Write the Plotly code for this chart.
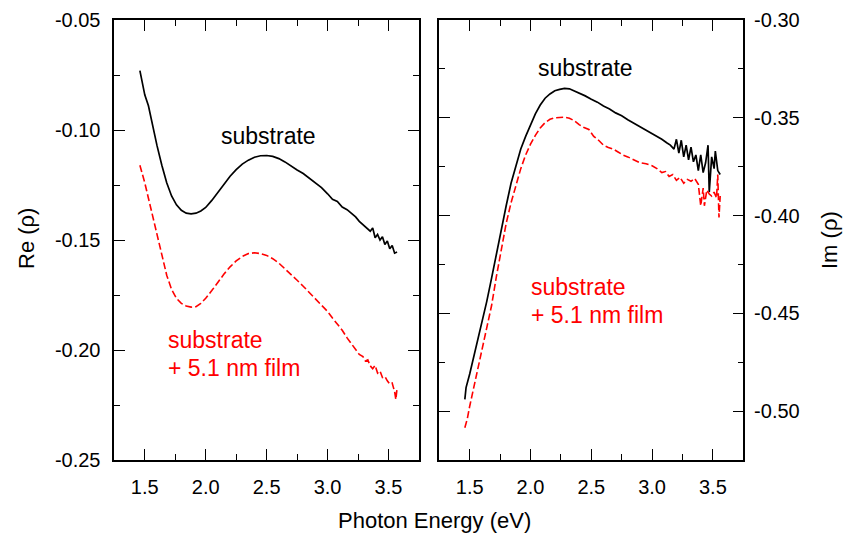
import plotly.graph_objects as go

# ---------------- data ----------------
energy_re_sub = [1.46, 1.48, 1.50, 1.53, 1.56, 1.60, 1.64, 1.68, 1.72, 1.76, 1.80, 1.84, 1.88, 1.92, 1.96,
                 2.00, 2.05, 2.10, 2.15, 2.20, 2.25, 2.30, 2.35, 2.40, 2.45, 2.50, 2.55, 2.60, 2.65, 2.70,
                 2.75, 2.80, 2.85, 2.90, 2.95, 3.00, 3.04, 3.08, 3.12, 3.16, 3.20, 3.23, 3.26, 3.29, 3.32,
                 3.35, 3.37, 3.39, 3.41, 3.43, 3.45, 3.47, 3.49, 3.51, 3.53, 3.55, 3.57]
re_substrate = [-0.0730, -0.0790, -0.0840, -0.0890, -0.0970, -0.1070, -0.1160, -0.1240, -0.1300, -0.1340,
                -0.1365, -0.1378, -0.1381, -0.1378, -0.1368, -0.1352, -0.1320, -0.1283, -0.1245, -0.1210,
                -0.1180, -0.1155, -0.1137, -0.1124, -0.1117, -0.1116, -0.1120, -0.1130, -0.1145, -0.1165,
                -0.1182, -0.1198, -0.1220, -0.1240, -0.1262, -0.1290, -0.1315, -0.1325, -0.1350, -0.1362,
                -0.1380, -0.1395, -0.1415, -0.1430, -0.1448, -0.1460, -0.1445, -0.1490, -0.1475, -0.1500,
                -0.1485, -0.1520, -0.1505, -0.1540, -0.1525, -0.1560, -0.1555]

energy_re_film = [1.46, 1.48, 1.50, 1.53, 1.56, 1.60, 1.64, 1.68, 1.72, 1.76, 1.80, 1.84, 1.88, 1.92, 1.96,
                  2.00, 2.05, 2.10, 2.15, 2.20, 2.25, 2.30, 2.35, 2.40, 2.45, 2.50, 2.55, 2.60, 2.65, 2.70,
                  2.75, 2.80, 2.85, 2.90, 2.95, 3.00, 3.04, 3.08, 3.12, 3.16, 3.20, 3.23, 3.26, 3.29, 3.31,
                  3.33, 3.35, 3.37, 3.39, 3.41, 3.43, 3.45, 3.47, 3.49, 3.51, 3.53, 3.55, 3.56, 3.57]
re_film = [-0.1160, -0.1195, -0.1240, -0.1310, -0.1380, -0.1480, -0.1580, -0.1660, -0.1725, -0.1765,
           -0.1788, -0.1800, -0.1805, -0.1803, -0.1788, -0.1765, -0.1730, -0.1690, -0.1655, -0.1622,
           -0.1595, -0.1575, -0.1562, -0.1558, -0.1562, -0.1570, -0.1585, -0.1605, -0.1630, -0.1655,
           -0.1683, -0.1710, -0.1738, -0.1765, -0.1795, -0.1825, -0.1855, -0.1880, -0.1910, -0.1945,
           -0.1975, -0.1992, -0.2020, -0.2030, -0.2050, -0.2045, -0.2072, -0.2085, -0.2070, -0.2105,
           -0.2095, -0.2125, -0.2120, -0.2140, -0.2155, -0.2150, -0.2190, -0.2225, -0.2175]

energy_im_sub = [1.46, 1.47, 1.50, 1.53, 1.56, 1.60, 1.64, 1.68, 1.72, 1.76, 1.80, 1.84, 1.88, 1.92, 1.96,
                 2.00, 2.04, 2.08, 2.12, 2.16, 2.20, 2.24, 2.28, 2.32, 2.36, 2.40, 2.45, 2.50, 2.55, 2.60,
                 2.65, 2.70, 2.75, 2.80, 2.85, 2.90, 2.95, 3.00, 3.04, 3.08, 3.12, 3.15, 3.18, 3.20, 3.22,
                 3.24, 3.26, 3.28, 3.30, 3.32, 3.34, 3.36, 3.38, 3.40, 3.42, 3.44, 3.46, 3.47, 3.49, 3.51,
                 3.52, 3.54, 3.56]
im_substrate = [-0.4940, -0.4880, -0.4810, -0.4730, -0.4660, -0.4560, -0.4440, -0.4320, -0.4190, -0.4070,
                -0.3950, -0.3835, -0.3740, -0.3660, -0.3595, -0.3540, -0.3480, -0.3435, -0.3400, -0.3378,
                -0.3362, -0.3355, -0.3350, -0.3352, -0.3362, -0.3373, -0.3388, -0.3405, -0.3420, -0.3440,
                -0.3455, -0.3475, -0.3490, -0.3510, -0.3528, -0.3545, -0.3562, -0.3580, -0.3592, -0.3610,
                -0.3628, -0.3640, -0.3660, -0.3610, -0.3680, -0.3615, -0.3700, -0.3640, -0.3715, -0.3650,
                -0.3725, -0.3690, -0.3770, -0.3690, -0.3780, -0.3730, -0.3640, -0.3880, -0.3700, -0.3760,
                -0.3670, -0.3770, -0.3790]

energy_im_film = [1.46, 1.48, 1.50, 1.53, 1.56, 1.60, 1.64, 1.68, 1.72, 1.76, 1.80, 1.84, 1.88, 1.92, 1.96,
                  2.00, 2.04, 2.08, 2.12, 2.16, 2.20, 2.24, 2.28, 2.32, 2.36, 2.40, 2.44, 2.48, 2.52, 2.56,
                  2.60, 2.64, 2.68, 2.72, 2.76, 2.80, 2.85, 2.90, 2.95, 3.00, 3.04, 3.08, 3.11, 3.14, 3.17,
                  3.20, 3.23, 3.26, 3.29, 3.32, 3.35, 3.38, 3.40, 3.42, 3.43, 3.45, 3.47, 3.49, 3.51, 3.53,
                  3.54, 3.55, 3.56]
im_film = [-0.5085, -0.5040, -0.4975, -0.4890, -0.4805, -0.4700, -0.4590, -0.4460, -0.4310, -0.4170,
           -0.4040, -0.3935, -0.3840, -0.3760, -0.3690, -0.3635, -0.3590, -0.3552, -0.3525, -0.3508,
           -0.3500, -0.3497, -0.3497, -0.3502, -0.3515, -0.3535, -0.3550, -0.3560, -0.3595, -0.3615,
           -0.3640, -0.3652, -0.3660, -0.3675, -0.3690, -0.3700, -0.3715, -0.3730, -0.3735, -0.3745,
           -0.3760, -0.3780, -0.3775, -0.3800, -0.3790, -0.3820, -0.3805, -0.3835, -0.3815, -0.3825,
           -0.3810, -0.3840, -0.3950, -0.3860, -0.3950, -0.3870, -0.3890, -0.3900, -0.3880, -0.3910,
           -0.3790, -0.4010, -0.3900]

x_tickvals = [1.5, 2.0, 2.5, 3.0, 3.5]
x_ticktext = ["1.5", "2.0", "2.5", "3.0", "3.5"]
x_minor_vals = [1.25, 1.75, 2.25, 2.75, 3.25, 3.75]
re_tickvals = [-0.25, -0.20, -0.15, -0.10, -0.05]
re_ticktext = ["-0.25", "-0.20", "-0.15", "-0.10", "-0.05"]
re_minor_vals = [-0.225, -0.175, -0.125, -0.075]
im_tickvals = [-0.50, -0.45, -0.40, -0.35, -0.30]
im_ticktext = ["-0.50", "-0.45", "-0.40", "-0.35", "-0.30"]
im_minor_vals = [-0.525, -0.475, -0.425, -0.375, -0.325]

label_substrate = "substrate"
label_film = "+ 5.1 nm film"
x_title = "Photon Energy (eV)"
re_title = "Re (ρ)"
im_title = "Im (ρ)"

# ---------------- figure ----------------
W, H = 851, 536
FONT = "Liberation Sans, Arial, Helvetica, sans-serif"
RED = "#ff0000"

fig = go.Figure()
fig.add_trace(go.Scatter(x=energy_re_sub, y=re_substrate, mode="lines",
                         line=dict(color="black", width=1.7), xaxis="x", yaxis="y", showlegend=False))
fig.add_trace(go.Scatter(x=energy_re_film, y=re_film, mode="lines",
                         line=dict(color=RED, width=1.6, dash="7px,3px"), xaxis="x", yaxis="y", showlegend=False))
fig.add_trace(go.Scatter(x=energy_im_sub, y=im_substrate, mode="lines",
                         line=dict(color="black", width=1.7), xaxis="x2", yaxis="y2", showlegend=False))
fig.add_trace(go.Scatter(x=energy_im_film, y=im_film, mode="lines",
                         line=dict(color=RED, width=1.6, dash="7px,3px"), xaxis="x2", yaxis="y2", showlegend=False))

def px_x(p):
    return p / W

def px_y(p):
    return 1 - p / H

left_dom = [px_x(114.3), px_x(419)]
right_dom = [px_x(439.3), px_x(743.3)]
y_dom = [px_y(460), px_y(20)]

tickfont = dict(family=FONT, size=20, color="black")

def xaxis(domain, anchor):
    return dict(domain=domain, anchor=anchor, range=[1.25, 3.75], tickmode="array",
                tickvals=x_tickvals, ticktext=x_ticktext, ticks="inside", ticklen=11, tickwidth=1.3,
                tickcolor="black", showline=True, linecolor="black", linewidth=1.6, mirror="ticks",
                showgrid=False, zeroline=False, tickfont=tickfont, ticklabelstandoff=8, automargin=False,
                minor=dict(tickmode="array", tickvals=x_minor_vals, ticks="inside", ticklen=6,
                           tickwidth=1.3, tickcolor="black", showgrid=False))

def yaxis(domain, anchor, rng, vals, text, minor_vals, side, standoff):
    return dict(domain=domain, anchor=anchor, range=rng, tickmode="array", tickvals=vals,
                ticktext=text, ticks="inside", ticklen=11, tickwidth=1.3, tickcolor="black",
                showline=True, linecolor="black", linewidth=1.6, mirror="ticks", side=side,
                showgrid=False, zeroline=False, tickfont=tickfont, ticklabelstandoff=standoff,
                automargin=False,
                minor=dict(tickmode="array", tickvals=minor_vals, ticks="inside", ticklen=6,
                           tickwidth=1.3, tickcolor="black", showgrid=False))

fig.update_layout(
    width=W, height=H,
    margin=dict(l=0, r=0, t=0, b=0, autoexpand=False),
    paper_bgcolor="white", plot_bgcolor="white",
    font=dict(family=FONT, color="black"),
    xaxis=xaxis(left_dom, "y"),
    xaxis2=xaxis(right_dom, "y2"),
    yaxis=yaxis(y_dom, "x", [-0.25, -0.05], re_tickvals, re_ticktext, re_minor_vals, "left", 8),
    yaxis2=yaxis(y_dom, "x2", [-0.525, -0.30], im_tickvals, im_ticktext, im_minor_vals, "right", 5),
)

ann_font = dict(family=FONT, size=23)
annotations = [
    dict(text=label_substrate, xref="x", yref="y", x=2.515, y=-0.1027, showarrow=False,
         xanchor="center", yanchor="middle", font=dict(ann_font, color="black")),
    dict(text=label_substrate, xref="x", yref="y", x=1.675, y=-0.1955, showarrow=False,
         xanchor="left", yanchor="middle", font=dict(ann_font, color=RED)),
    dict(text=label_film, xref="x", yref="y", x=1.675, y=-0.2082, showarrow=False,
         xanchor="left", yanchor="middle", font=dict(ann_font, color=RED)),
    dict(text=label_substrate, xref="x2", yref="y2", x=2.451, y=-0.3246, showarrow=False,
         xanchor="center", yanchor="middle", font=dict(ann_font, color="black")),
    dict(text=label_substrate, xref="x2", yref="y2", x=1.99, y=-0.4366, showarrow=False,
         xanchor="left", yanchor="middle", font=dict(ann_font, color=RED)),
    dict(text=label_film, xref="x2", yref="y2", x=1.99, y=-0.4510, showarrow=False,
         xanchor="left", yanchor="middle", font=dict(ann_font, color=RED)),
    dict(text=x_title, xref="paper", yref="paper", x=px_x(434), y=px_y(520), showarrow=False,
         xanchor="center", yanchor="middle", font=dict(family=FONT, size=22, color="black")),
    dict(text=re_title, xref="paper", yref="paper", x=px_x(27), y=px_y(239), showarrow=False,
         textangle=-90, xanchor="center", yanchor="middle", font=dict(family=FONT, size=22, color="black")),
    dict(text=im_title, xref="paper", yref="paper", x=px_x(830), y=px_y(240), showarrow=False,
         textangle=-90, xanchor="center", yanchor="middle", font=dict(family=FONT, size=22, color="black")),
]
fig.update_layout(annotations=annotations)

fig.write_html("out.html", config={"displayModeBar": False},
               post_script="document.body.style.margin='0px'; document.body.style.overflow='hidden';")
